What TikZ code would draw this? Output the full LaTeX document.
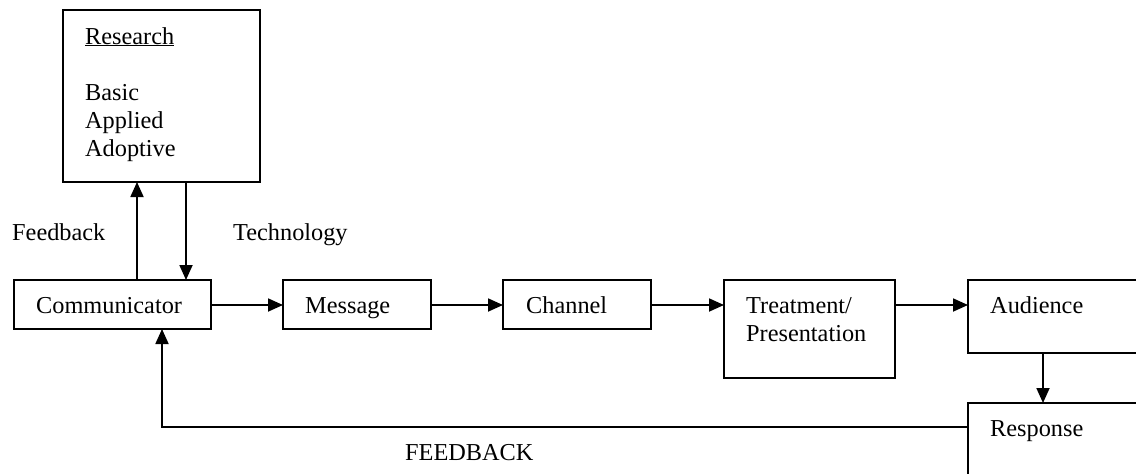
\documentclass[tikz,border=0pt]{standalone}
\usepackage{fontspec}
\setmainfont{Liberation Serif}
\usetikzlibrary{arrows.meta}
\begin{document}
\begin{tikzpicture}[x=1pt,y=-1pt,
 box/.style={draw,line width=1.8pt,anchor=north west,inner sep=0pt,outer sep=0pt},
 txt/.style={anchor=base west,inner sep=0pt,font=\fontsize{24.3}{28}\selectfont},
 arr/.style={line width=1.8pt,-{Triangle[length=15pt,width=13pt]}}]
\useasboundingbox (0,0) rectangle (1136,474);
\clip (0,0) rectangle (1136,474);
% boxes
\node[box,minimum width=197pt,minimum height=172pt] (research) at (63,10) {};
\node[box,minimum width=197pt,minimum height=49pt] (comm) at (14,280) {};
\node[box,minimum width=148pt,minimum height=49pt] (msg) at (283,280) {};
\node[box,minimum width=148pt,minimum height=49pt] (chan) at (503,280) {};
\node[box,minimum width=171pt,minimum height=98pt] (treat) at (724,280) {};
\node[box,minimum width=200pt,minimum height=73pt] (aud) at (968,280) {};
\node[box,minimum width=200pt,minimum height=100pt] (resp) at (968,403) {};
% texts
\node[txt] (tres) at (85,44) {\underline{Research}};
\node[txt] (tbas) at (85,100) {Basic};
\node[txt] (tapp) at (85,128) {Applied};
\node[txt] (tado) at (85,156) {Adoptive};
\node[txt] (tfb) at (12,240) {Feedback};
\node[txt] (ttech) at (233,240) {Technology};
\node[txt] (tcomm) at (36,313) {Communicator};
\node[txt] (tmsg) at (305,313) {Message};
\node[txt] (tchan) at (526,313) {Channel};
\node[txt] (ttr1) at (746,313) {Treatment/};
\node[txt] (ttr2) at (746,341) {Presentation};
\node[txt] (taud) at (990,313) {Audience};
\node[txt] (tresp) at (990,436) {Response};
\node[txt] (tfeed) at (405,460) {FEEDBACK};
% helper coordinates
\coordinate (fbx) at (137,0);
\coordinate (tcx) at (186,0);
\coordinate (ax) at (1043,0);
\coordinate (fy) at (0,427);
\coordinate (rx) at (162,0);
\coordinate (my) at (0,305);
% connectors
\draw[arr] (fbx |- comm.north) -- (fbx |- research.south);
\draw[arr] (tcx |- research.south) -- (tcx |- comm.north);
\draw[arr] (my -| comm.east) -- (my -| msg.west);
\draw[arr] (my -| msg.east) -- (my -| chan.west);
\draw[arr] (my -| chan.east) -- (my -| treat.west);
\draw[arr] (my -| treat.east) -- (my -| aud.west);
\draw[arr] (ax |- aud.south) -- (ax |- resp.north);
\draw[arr] (fy -| resp.west) -- (fy -| rx) -- (rx |- comm.south);
\end{tikzpicture}
\end{document}
